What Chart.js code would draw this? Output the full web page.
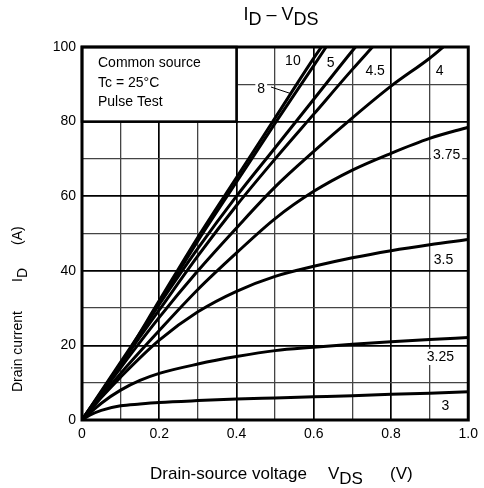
<!DOCTYPE html>
<html>
<head>
<meta charset="utf-8">
<script src="https://cdn.jsdelivr.net/npm/chart.js@4.4.1/dist/chart.umd.min.js"></script>
<style>
  html, body { margin: 0; padding: 0; background: #fff; }
</style>
</head>
<body>
<canvas id="chart" width="484" height="488"></canvas>
<script>
// ID - VDS output characteristics, one curve per gate voltage

const gateLabels = ['10', '8', '5', '4.5', '4', '3.75', '3.5', '3.25', '3'];

const vds10 = [0, 0.1, 0.2, 0.3, 0.4, 0.5, 0.6, 0.62];
const id10  = [0, 15, 32, 49, 65, 81, 97, 100];

const vds8 = [0, 0.1, 0.2, 0.3, 0.4, 0.5, 0.6, 0.632];
const id8  = [0, 14.6, 31.3, 48, 63.8, 79.6, 95, 100];

const vds5 = [0, 0.1, 0.2, 0.3, 0.4, 0.5, 0.6, 0.7, 0.708];
const id5  = [0, 15.5, 31, 46, 60, 73, 86, 99, 100];

const vds45 = [0, 0.1, 0.2, 0.3, 0.4, 0.5, 0.6, 0.7, 0.752];
const id45  = [0, 15, 29.5, 44, 57.5, 70, 82, 94, 100];

const vds4 = [0, 0.1, 0.2, 0.3, 0.4, 0.5, 0.6, 0.7, 0.8, 0.9, 0.935];
const id4  = [0, 14, 27.5, 40, 51.5, 62.5, 72, 81, 89.5, 97, 100];

const vds375 = [0, 0.1, 0.2, 0.3, 0.4, 0.5, 0.6, 0.7, 0.8, 0.9, 1.0];
const id375  = [0, 12.5, 24, 35, 44.8, 54, 61.3, 67, 71.5, 75.5, 78.5];

const vds35 = [0, 0.05, 0.1, 0.2, 0.3, 0.4, 0.5, 0.6, 0.7, 0.8, 0.9, 1.0];
const id35  = [0, 6, 11.5, 21.4, 29, 34.5, 38.5, 41.2, 43.5, 45.4, 47, 48.4];

const vds325 = [0, 0.05, 0.1, 0.15, 0.2, 0.3, 0.4, 0.5, 0.6, 0.7, 0.8, 0.9, 1.0];
const id325  = [0, 4.5, 8, 10.6, 12.5, 15, 17, 18.6, 19.5, 20.3, 21, 21.6, 22.1];

const vds3 = [0, 0.02, 0.05, 0.1, 0.15, 0.2, 0.3, 0.4, 0.5, 0.6, 0.7, 0.8, 0.9, 1.0];
const id3  = [0, 1.3, 2.6, 3.8, 4.3, 4.7, 5.2, 5.6, 5.9, 6.2, 6.5, 6.9, 7.2, 7.6];

const curveX = [vds10, vds8, vds5, vds45, vds4, vds375, vds35, vds325, vds3];
const curveY = [id10, id8, id5, id45, id4, id375, id35, id325, id3];

const xTickLabels = ['0', '0.2', '0.4', '0.6', '0.8', '1.0'];
const yTickLabels = ['0', '20', '40', '60', '80', '100'];

const boxLines = ['Common source', 'Tc = 25°C', 'Pulse Test'];

// where each gate-voltage label sits, in axis units
const labelV = [0.546, 0.464, 0.644, 0.759, 0.926, 0.944, 0.936, 0.928, 0.941];
const labelI = [96.2, 88.7, 95.7, 93.6, 93.6, 71.0, 42.9, 16.9, 3.75];

const FONT = '"Liberation Sans", Arial, sans-serif';

function toPoints(xs, ys) {
  return xs.map((v, i) => ({ x: v, y: ys[i] }));
}

const datasets = gateLabels.map((g, k) => ({
  label: 'VGS = ' + g,
  data: toPoints(curveX[k], curveY[k]),
  borderColor: '#000',
  borderWidth: 3,
  pointRadius: 0,
  showLine: true,
  fill: false,
  cubicInterpolationMode: 'monotone'
}));

// text with lowered pieces, e.g. I + D
function richWidth(ctx, parts, size) {
  let w = 0;
  parts.forEach(p => {
    ctx.font = size + 'px ' + FONT;
    w += ctx.measureText(p[0]).width;
  });
  return w;
}
function drawRich(ctx, parts, x, y, size) {
  let cx = x;
  parts.forEach(p => {
    ctx.font = size + 'px ' + FONT;
    ctx.fillText(p[0], cx, p[1] ? y + 5 : y);
    cx += ctx.measureText(p[0]).width;
  });
}

const decorPlugin = {
  id: 'decor',
  beforeDatasetsDraw(chart) {
    const { ctx, scales: { x, y } } = chart;
    ctx.save();
    // white box with the test conditions
    const bx0 = x.getPixelForValue(0), bx1 = x.getPixelForValue(0.4);
    const by0 = y.getPixelForValue(100), by1 = y.getPixelForValue(80);
    ctx.fillStyle = '#fff';
    ctx.fillRect(bx0, by0, bx1 - bx0, by1 - by0);
    ctx.strokeStyle = '#000';
    ctx.lineWidth = 2.5;
    ctx.strokeRect(bx0, by0, bx1 - bx0, by1 - by0);
    ctx.fillStyle = '#000';
    ctx.font = '14px ' + FONT;
    ctx.textBaseline = 'middle';
    ctx.textAlign = 'left';
    boxLines.forEach((t, i) => ctx.fillText(t, bx0 + 16, by0 + 16 + i * 19.7));

    // gate voltage labels on white patches
    ctx.textAlign = 'center';
    gateLabels.forEach((g, k) => {
      const px = x.getPixelForValue(labelV[k]);
      const py = y.getPixelForValue(labelI[k]);
      const w = ctx.measureText(g).width;
      ctx.fillStyle = '#fff';
      ctx.fillRect(px - w / 2 - 2, py - 8, w + 4, 16);
      ctx.fillStyle = '#000';
      ctx.fillText(g, px, py);
    });
    // leader from the 8 label to its curve
    ctx.lineWidth = 1;
    ctx.beginPath();
    ctx.moveTo(271, 87);
    ctx.lineTo(292, 94);
    ctx.stroke();
    ctx.restore();
  },
  afterDatasetsDraw(chart) {
    const { ctx, chartArea: a } = chart;
    ctx.save();
    ctx.strokeStyle = '#000';
    ctx.lineWidth = 3;
    ctx.strokeRect(a.left, a.top, a.right - a.left, a.bottom - a.top);

    ctx.fillStyle = '#000';
    ctx.textBaseline = 'middle';
    ctx.textAlign = 'left';

    // chart title  ID – VDS
    const title = [['I', 0], ['D', 1], [' \u2013 V', 0], ['DS', 1]];
    const tw = richWidth(ctx, title, 18);
    drawRich(ctx, title, 281 - tw / 2, 15, 18);

    // x axis title
    ctx.font = '17px ' + FONT;
    ctx.fillText('Drain-source voltage', 150, 474);
    drawRich(ctx, [['V', 0], ['DS', 1]], 328, 474, 17);
    ctx.font = '17px ' + FONT;
    ctx.fillText('(V)', 390, 474);

    // y axis title, rotated
    ctx.translate(18, 392);
    ctx.rotate(-Math.PI / 2);
    ctx.font = '14px ' + FONT;
    ctx.fillText('Drain current', 0, 0);
    drawRich(ctx, [['I', 0], ['D', 1]], 110, 0, 14);
    ctx.font = '14px ' + FONT;
    ctx.fillText('(A)', 147, 0);
    ctx.restore();
  }
};

function isMajor(value, step) {
  return Math.round(value / step) % 2 === 0;
}

new Chart(document.getElementById('chart'), {
  type: 'scatter',
  data: { datasets: datasets },
  options: {
    responsive: false,
    animation: false,
    layout: { padding: { left: 0, right: 12, top: 47, bottom: 0 } },
    plugins: {
      legend: { display: false },
      tooltip: { enabled: false }
    },
    scales: {
      x: {
        type: 'linear',
        min: 0,
        max: 1,
        afterFit: (s) => { s.height = 68; },
        ticks: {
          stepSize: 0.1,
          autoSkip: false,
          maxRotation: 0,
          color: '#000',
          font: { size: 14, family: FONT },
          padding: 6,
          callback: (v) => {
            const n = Math.round(v * 10);
            return n % 2 === 0 ? xTickLabels[n / 2] : '';
          }
        },
        grid: {
          drawTicks: false,
          color: (c) => isMajor(c.tick.value, 0.1) ? '#000' : '#444',
          lineWidth: (c) => isMajor(c.tick.value, 0.1) ? 1.7 : 1.3
        },
        border: { display: false }
      },
      y: {
        type: 'linear',
        min: 0,
        max: 100,
        afterFit: (s) => { s.width = 82; },
        ticks: {
          stepSize: 10,
          autoSkip: false,
          color: '#000',
          font: { size: 14, family: FONT },
          padding: 6,
          callback: (v) => {
            const n = Math.round(v / 10);
            return n % 2 === 0 ? yTickLabels[n / 2] : '';
          }
        },
        grid: {
          drawTicks: false,
          color: (c) => isMajor(c.tick.value, 10) ? '#000' : '#444',
          lineWidth: (c) => isMajor(c.tick.value, 10) ? 1.7 : 1.3
        },
        border: { display: false }
      }
    }
  },
  plugins: [decorPlugin]
});
</script>
</body>
</html>
